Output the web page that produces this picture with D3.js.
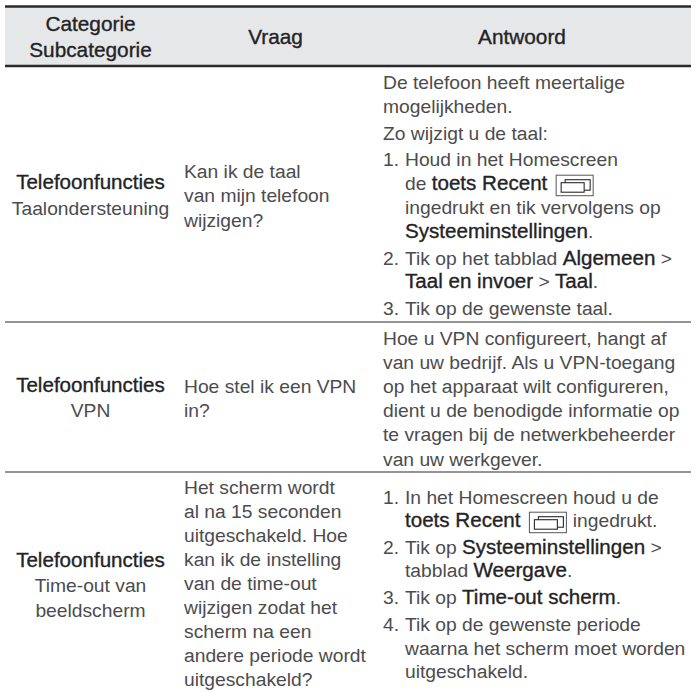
<!DOCTYPE html>
<html><head><meta charset="utf-8">
<script src="https://cdn.jsdelivr.net/npm/d3@7"></script>
<style>html,body{margin:0;background:#fff}svg{display:block}text{font-family:"Liberation Sans",Arial,sans-serif;fill:#4c4c4e;white-space:pre}</style>
</head><body><div id="c"></div>
<script>
const headers = [["Categorie","Subcategorie"],["Vraag"],["Antwoord"]];
const categories = [["*Telefoonfuncties*","Taalondersteuning"],["*Telefoonfuncties*","VPN"],["*Telefoonfuncties*","Time-out van","beeldscherm"]];
const questions = [
 ["Kan ik de taal","van mijn telefoon","wijzigen?"],
 ["Hoe stel ik een VPN","in?"],
 ["Het scherm wordt","al na 15 seconden","uitgeschakeld. Hoe","kan ik de instelling","van de time-out","wijzigen zodat het","scherm na een","andere periode wordt","uitgeschakeld?"]];
const answers = [
 [["De telefoon heeft meertalige","mogelijkheden."],["Zo wijzigt u de taal:"],
  ["1. |Houd in het Homescreen","de *toets Recent* #","ingedrukt en tik vervolgens op","*Systeeminstellingen*."],
  ["2. |Tik op het tabblad *Algemeen* >","*Taal en invoer* > *Taal*."],
  ["3. |Tik op de gewenste taal."]],
 [["Hoe u VPN configureert, hangt af","van uw bedrijf. Als u VPN-toegang","op het apparaat wilt configureren,","dient u de benodigde informatie op","te vragen bij de netwerkbeheerder","van uw werkgever."]],
 [["1. |In het Homescreen houd u de","*toets Recent* # ingedrukt."],
  ["2. |Tik op *Systeeminstellingen* >","tabblad *Weergave*."],
  ["3. |Tik op *Time-out scherm*."],
  ["4. |Tik op de gewenste periode","waarna het scherm moet worden","uitgeschakeld."]]];

const W=696,H=692,FS=19.25,BOLD=1.07;
const colX=[5,348,691];
const catLayout=[[188.5,26],[391.7,25.3],[567,25]];
const qLayout=[[178,24.3],[393,24],[494,24]];
const aLayout=[[89,23.8,3],[345,24.1,0],[504,23.2,3.8]];
const svg=d3.select("#c").append("svg").attr("width",W).attr("height",H);
const ink="#4c4c4e", bold="#232325";
svg.append("rect").attr("x",colX[0]).attr("y",7).attr("width",colX[2]-colX[0]).attr("height",59).attr("fill","#e6e7e8");
const rules=[{y:6.5,w:2.5},{y:66,w:2.5},{y:322,w:1.2},{y:472,w:1.2}];
svg.selectAll("line.r").data(rules).join("line").attr("class","r").attr("x1",colX[0]).attr("x2",colX[2]).attr("y1",d=>d.y).attr("y2",d=>d.y).attr("stroke","#2b2b2d").attr("stroke-width",d=>d.w);

function segs(s){return s.split("*").map((t,i)=>({t,b:i%2===1})).filter(d=>d.t!=="");}
function drawLine(str,x,y,anchor,fs,allBold){
  const t=svg.append("text").attr("x",x).attr("y",y).attr("font-size",fs).attr("text-anchor",anchor);
  segs(str).forEach(s=>{
    const b=s.b||allBold;
    s.t.split("#").forEach((p,i)=>{
      if(i>0){t.append("tspan").text("\u2003\u2003").attr("class","ic").attr("dx",2.5).attr("font-size",19.5);}
      if(p) t.append("tspan").text(p).attr("font-size",b?(allBold?fs:fs*BOLD):fs).style("fill",b?bold:ink).attr("stroke",b?bold:"none").attr("stroke-width",b?0.35:0);
    });
  });
  t.selectAll("tspan.ic").each(function(){
    const st=this.getStartPositionOfChar(0);
    const g=svg.append("g").attr("transform",`translate(${st.x+1},${y-15})`);
    g.append("rect").attr("width",37).attr("height",20.5).attr("fill","#fff").attr("stroke","#55565a").attr("stroke-width",1);
    g.append("rect").attr("x",9).attr("y",4.5).attr("width",25).attr("height",10.5).attr("fill","none").attr("stroke","#2b2b2d").attr("stroke-width",1.1);
    g.append("rect").attr("x",5).attr("y",7.5).attr("width",23).attr("height",9.5).attr("fill","#fff").attr("stroke","#2b2b2d").attr("stroke-width",1.1);
  });
}
const hc=[90.5,275.5,522];
headers.forEach((ls,c)=>ls.forEach((l,i)=>{
  drawLine(l,hc[c],ls.length>1?31+i*26:43.5,"middle",20.8,true);
}));
categories.forEach((ls,r)=>ls.forEach((l,i)=>{
  drawLine(l,90.5,catLayout[r][0]+i*catLayout[r][1],"middle",FS);
}));
questions.forEach((ls,r)=>ls.forEach((l,i)=>{
  drawLine(l,184,qLayout[r][0]+i*qLayout[r][1],"start",FS);
}));
answers.forEach((blocks,r)=>{
  let y=aLayout[r][0];
  blocks.forEach(b=>{
    b.forEach(l=>{
      if(l.includes("|")){const [num,rest]=l.split("|");drawLine(num,383,y,"start",FS);drawLine(rest,405,y,"start",FS);}
      else drawLine(l,/^De tel|^mogel|^Zo wij|^Hoe u|^van uw|^op het|^dient|^te vragen/.test(l)?383:405,y,"start",FS);
      y+=aLayout[r][1];
    });
    y+=aLayout[r][2];
  });
});
</script></body></html>
